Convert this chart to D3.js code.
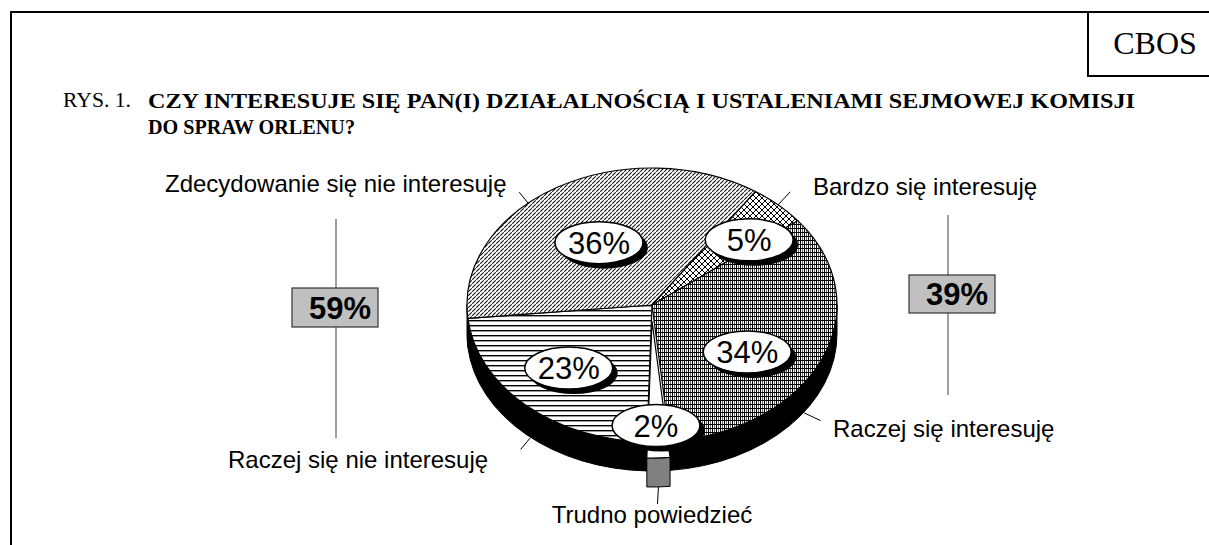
<!DOCTYPE html>
<html>
<head>
<meta charset="utf-8">
<script src="https://cdn.jsdelivr.net/npm/d3@7"></script>
<style>
  body { margin: 0; background: #fff; }
  svg { display: block; }
</style>
</head>
<body>
<div id="chart"></div>
<script>
// ---- data ----
const categories = ["Bardzo się interesuję", "Raczej się interesuję", "Trudno powiedzieć",
                    "Raczej się nie interesuję", "Zdecydowanie się nie interesuję"];
const values = [5, 34, 2, 23, 36];
const summaryValues = [59, 39];          // nie interesuje się / interesuje się
const figureLabel = "RYS. 1.";
const titleLines = ["CZY INTERESUJE SIĘ PAN(I) DZIAŁALNOŚCIĄ I USTALENIAMI SEJMOWEJ KOMISJI",
                    "DO SPRAW ORLENU?"];
const sourceLabel = "CBOS";

// ---- layout ----
const W = 1209, H = 545;
const cx = 652, cy = 305, rx = 185, ry = 137, depth = 29;
const explodedIndex = 2, explodeY = 16;
const startDeg = 34;
const patterns = ["pBardzo", "pRaczej", null, "pRaczejNie", "pZdec"];
// label position as fraction of radii along the slice mid angle
const pctPos = [[0.77, 0.65], [0.56, 0.87], [0.62, 0.88], [0.66, 0.63], [0.56, 0.53]];
const catLayout = [
  {x: 813, y: 195, anchor: "start",  rim: 43,  bottom: false, dx: 12,  dy: -13},
  {x: 833, y: 437, anchor: "start",  rim: 125, bottom: true,  dx: 17,  dy: 8},
  {x: 652, y: 523, anchor: "middle", rim: 178, bottom: true,  dx: -1,  dy: 17},
  {x: 228, y: 468, anchor: "start",  rim: 221, bottom: true,  dx: -10, dy: 12},
  {x: 165, y: 192, anchor: "start",  rim: 318, bottom: false, dx: -9,  dy: -11}
];
const summaryLayout = [
  {lineX: 336, y0: 219, y1: 438, box: [292, 288, 86, 39]},
  {lineX: 948, y0: 215, y1: 395, box: [909, 275, 86, 38]}
];

const rad = d => d * Math.PI / 180;
const pt = (a, dy = 0, off = 0) => [cx + rx * Math.sin(a), cy + off + dy - ry * Math.cos(a)];

const svg = d3.select("#chart").append("svg")
  .attr("width", W).attr("height", H);

// ---- fill patterns ----
const defs = svg.append("defs");
function pattern(id, w, h, draw) {
  const p = defs.append("pattern").attr("id", id).attr("patternUnits", "userSpaceOnUse")
    .attr("width", w).attr("height", h);
  p.append("rect").attr("width", w).attr("height", h).attr("fill", "#fff");
  draw(p);
}
// fine dashed upward diagonal
pattern("pZdec", 4, 4, p => p.append("path")
  .attr("d", "M0.6,3.4L3.4,0.6").attr("stroke", "#111").attr("stroke-width", 1.1)
  .attr("stroke-linecap", "round"));
pattern("pBardzo", 6, 6, p => p.append("path")
  .attr("d", "M0,0L6,6M6,0L0,6").attr("stroke", "#000").attr("stroke-width", 1));
pattern("pRaczej", 4, 4, p => {
  p.append("rect").attr("x", 0).attr("y", 0).attr("width", 1).attr("height", 4).attr("fill", "#000");
  p.append("rect").attr("x", 2).attr("y", 0).attr("width", 1).attr("height", 4).attr("fill", "#666");
  p.append("rect").attr("x", 0).attr("y", 0).attr("width", 4).attr("height", 1).attr("fill", "#000");
});
pattern("pRaczejNie", 5, 5, p => p.append("rect")
  .attr("x", 0).attr("y", 0).attr("width", 5).attr("height", 1.4).attr("fill", "#000"));

// ---- frame ----
svg.append("path").attr("d", `M11,${H}V12H${W}`).attr("fill", "none")
  .attr("stroke", "#000").attr("stroke-width", 2);
svg.append("path").attr("d", `M1088,12V76H${W}`).attr("fill", "none")
  .attr("stroke", "#000").attr("stroke-width", 2);
svg.append("text").attr("x", 1155).attr("y", 54).attr("text-anchor", "middle")
  .attr("font-family", "Liberation Serif, Times New Roman, serif").attr("font-size", 32)
  .text(sourceLabel);

// ---- title ----
const serif = "Liberation Serif, Times New Roman, serif";
svg.append("text").attr("x", 63).attr("y", 107).attr("font-family", serif)
  .attr("font-size", 20).attr("textLength", 68).attr("lengthAdjust", "spacingAndGlyphs")
  .text(figureLabel);
const titleLens = [987, 207];
titleLines.forEach((t, i) => {
  svg.append("text").attr("x", 148).attr("y", 108 + i * 26).attr("font-family", serif)
    .attr("font-size", 22).attr("font-weight", "bold")
    .attr("textLength", titleLens[i]).attr("lengthAdjust", "spacingAndGlyphs")
    .text(t);
});

// ---- pie ----
const pie = d3.pie().sort(null).value(d => d)
  .startAngle(rad(startDeg)).endAngle(rad(startDeg) + 2 * Math.PI);
const arcs = pie(values);

function topPath(a0, a1, off) {
  const p0 = pt(a0, 0, off), p1 = pt(a1, 0, off);
  const large = (a1 - a0) > Math.PI ? 1 : 0;
  return `M${cx},${cy + off}L${p0}A${rx},${ry} 0 ${large} 1 ${p1}Z`;
}
function wallPath(a0, a1, off) {
  let d = "";
  [[Math.PI / 2, 3 * Math.PI / 2], [Math.PI / 2 + 2 * Math.PI, 3 * Math.PI / 2 + 2 * Math.PI]]
    .forEach(([f0, f1]) => {
      const b0 = Math.max(a0, f0), b1 = Math.min(a1, f1);
      if (b1 <= b0) return;
      const p0 = pt(b0, 0, off), p1 = pt(b1, 0, off);
      const q0 = pt(b0, depth, off), q1 = pt(b1, depth, off);
      d += `M${p0}A${rx},${ry} 0 0 1 ${p1}L${q1}A${rx},${ry} 0 0 0 ${q0}Z`;
    });
  return d;
}

const g = svg.append("g");
// side walls of the pie body
g.selectAll("path.wall").data(arcs).join("path").attr("class", "wall")
  .attr("d", d => wallPath(d.startAngle, d.endAngle, 0))
  .attr("fill", "#000").attr("stroke", "#000").attr("stroke-width", 1);
// top faces
g.selectAll("path.top").data(arcs.filter(d => d.index !== explodedIndex)).join("path")
  .attr("class", "top")
  .attr("d", d => topPath(d.startAngle, d.endAngle, 0))
  .attr("fill", d => `url(#${patterns[d.index]})`)
  .attr("stroke", "#000").attr("stroke-width", 1.2).attr("stroke-linejoin", "round");
// exploded slice
const ex = arcs[explodedIndex];
g.append("path").attr("d", wallPath(ex.startAngle, ex.endAngle, explodeY))
  .attr("fill", "#808080").attr("stroke", "#000").attr("stroke-width", 1);
g.append("path").attr("d", topPath(ex.startAngle, ex.endAngle, explodeY))
  .attr("fill", "#fff").attr("stroke", "#000").attr("stroke-width", 1.2);

// ---- leader lines and category labels ----
const sans = "Liberation Sans, Arial, sans-serif";
catLayout.forEach((c, i) => {
  const off = i === explodedIndex ? explodeY : 0;
  const p = pt(rad(c.rim), c.bottom ? depth : 0, off);
  svg.append("line").attr("x1", p[0]).attr("y1", p[1])
    .attr("x2", p[0] + c.dx).attr("y2", p[1] + c.dy)
    .attr("stroke", "#000").attr("stroke-width", 1);
  svg.append("text").attr("x", c.x).attr("y", c.y).attr("text-anchor", c.anchor)
    .attr("font-family", sans).attr("font-size", 24).text(categories[i]);
});

// ---- percentage bubbles ----
const bub = svg.selectAll("g.bub").data(arcs).join("g").attr("class", "bub")
  .attr("transform", d => {
    const m = (d.startAngle + d.endAngle) / 2;
    const k = pctPos[d.index];
    return `translate(${cx + k[0] * rx * Math.sin(m)},${cy - k[1] * ry * Math.cos(m)})`;
  });
bub.append("ellipse").attr("cx", 5).attr("cy", 5).attr("rx", 44).attr("ry", 21).attr("fill", "#000");
bub.append("ellipse").attr("rx", 44).attr("ry", 21).attr("fill", "#fff")
  .attr("stroke", "#000").attr("stroke-width", 1.5);
bub.append("text").attr("text-anchor", "middle").attr("dy", "0.36em")
  .attr("font-family", sans).attr("font-size", 31)
  .text(d => d.value + "%");

// ---- summary boxes ----
summaryLayout.forEach((s, i) => {
  svg.append("line").attr("x1", s.lineX).attr("x2", s.lineX).attr("y1", s.y0).attr("y2", s.y1)
    .attr("stroke", "#808080").attr("stroke-width", 1.5);
  const [bx, by, bw, bh] = s.box;
  svg.append("rect").attr("x", bx).attr("y", by).attr("width", bw).attr("height", bh)
    .attr("fill", "#c0c0c0").attr("stroke", "#333").attr("stroke-width", 1.2);
  svg.append("text").attr("x", bx + bw - 7).attr("y", by + bh / 2).attr("dy", "0.36em")
    .attr("text-anchor", "end").attr("font-family", sans).attr("font-weight", "bold")
    .attr("font-size", 31).text(summaryValues[i] + "%");
});
</script>
</body>
</html>
